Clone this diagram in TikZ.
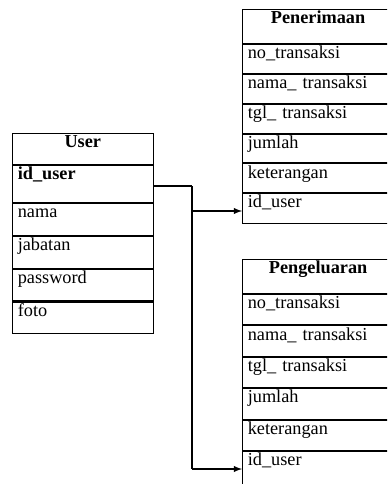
\documentclass[tikz,border=0pt]{standalone}
\usepackage{fontspec}
\setmainfont{Liberation Serif}
\usetikzlibrary{positioning}
\begin{document}
\begin{tikzpicture}[x=0.02cm,y=-0.02cm,line width=0.6pt,
  every node/.style={font=\fontsize{10.4pt}{12pt}\selectfont},
  tabhead/.style={draw, anchor=north west, text width=#1, align=center,
    font=\fontsize{10.4pt}{12pt}\selectfont\bfseries,
    inner xsep=3pt, inner ysep=1pt, text height=7pt},
  tabrow/.style={draw, text width=#1, align=left,
    inner xsep=3pt, inner ysep=1pt, text height=7pt},
  trunk/.style={line width=1.7pt},
  fk/.style={-latex}]
\clip (0,0) rectangle (387,484);
% tabel User
\node[tabhead=74pt, text depth=8.6pt] (user) at (12,133) {User};
\node[tabrow=74pt, text depth=12pt, font=\fontsize{10.4pt}{12pt}\selectfont\bfseries, below=0pt of user] (uid) {id\_user};
\node[tabrow=74pt, text depth=9.1pt, below=0pt of uid] (unama) {nama};
\node[tabrow=74pt, text depth=9.1pt, below=0pt of unama] (ujab) {jabatan};
\node[tabrow=74pt, text depth=9.1pt, below=0pt of ujab] (upass) {password};
\node[tabrow=74pt, text depth=9.1pt, below=0pt of upass] (ufoto) {foto};
% tabel Penerimaan
\node[tabhead=80pt, text depth=10.3pt] (terima) at (242,9) {Penerimaan};
\node[tabrow=80pt, text depth=7.4pt, below=0pt of terima] (pno) {no\_transaksi};
\node[tabrow=80pt, text depth=7.4pt, below=0pt of pno] (pnama) {nama\_ transaksi};
\node[tabrow=80pt, text depth=7.4pt, below=0pt of pnama] (ptgl) {tgl\_ transaksi};
\node[tabrow=80pt, text depth=7.4pt, below=0pt of ptgl] (pjml) {jumlah};
\node[tabrow=80pt, text depth=7.4pt, below=0pt of pjml] (pket) {keterangan};
\node[tabrow=80pt, text depth=8pt, below=0pt of pket] (pid) {id\_user};
% tabel Pengeluaran
\node[tabhead=80pt, text depth=10.3pt] (keluar) at (242,259) {Pengeluaran};
\node[tabrow=80pt, text depth=8.3pt, below=0pt of keluar] (kno) {no\_transaksi};
\node[tabrow=80pt, text depth=8.3pt, below=0pt of kno] (knama) {nama\_ transaksi};
\node[tabrow=80pt, text depth=8.3pt, below=0pt of knama] (ktgl) {tgl\_ transaksi};
\node[tabrow=80pt, text depth=8.3pt, below=0pt of ktgl] (kjml) {jumlah};
\node[tabrow=80pt, text depth=8.3pt, below=0pt of kjml] (kket) {keterangan};
\node[tabrow=80pt, text depth=20pt, below=0pt of kket] (kid) {id\_user};
% relasi
\coordinate (jtop) at (192,186);
\coordinate (jmid) at (192,211);
\coordinate (jbot) at (192,469);
\draw (uid.east |- jtop) -- (jtop);
\draw[trunk] (jtop) -- (jbot);
\draw[fk] (jmid) -- (pid.west |- jmid);
\draw[fk] (jbot) -- (kid.west |- jbot);
\end{tikzpicture}
\end{document}
